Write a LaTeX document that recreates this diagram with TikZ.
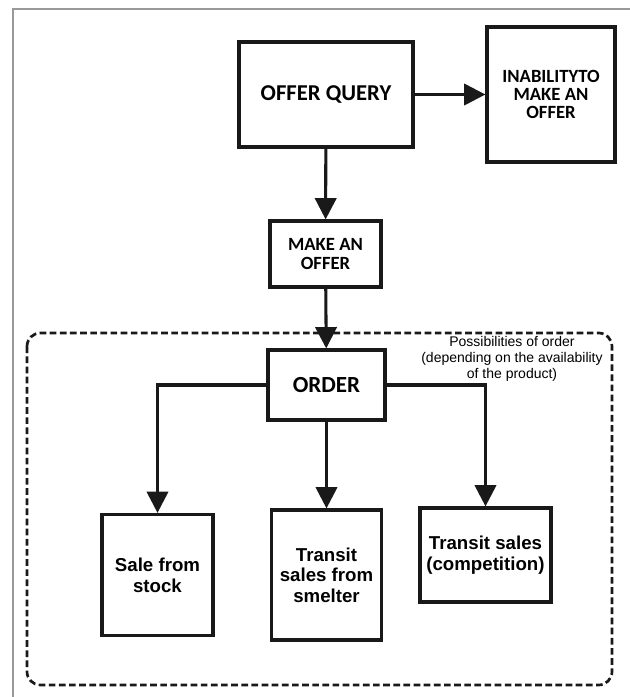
\documentclass[tikz,border=0pt]{standalone}
\usepackage{fontspec}
\newfontfamily\calib{Carlito}
\newfontfamily\arial{Liberation Sans}
\usepackage{tikz}
\usetikzlibrary{arrows.meta,positioning}

\begin{document}
\begin{tikzpicture}[x=0.75pt, y=-0.75pt,
  box/.style={rectangle, draw=black!90, line width=2.4pt, align=center,
              inner sep=2pt},
  topbox/.style={box, font=\calib\bfseries},
  lowbox/.style={box, font=\arial\bfseries\fontsize{14}{15.5}\selectfont},
  edge/.style={line width=2.3pt, black!90,
               -{Triangle[length=16pt, width=16pt]}}
]
  \useasboundingbox (0,0) rectangle (630,697);
  \draw[gray!80, line width=0.8pt] (630,9) -- (13,9) -- (13,697);

  \draw[black!90, line width=2pt, dash pattern=on 5pt off 2.6pt,
        rounded corners=10pt] (27,333) rectangle (612,685);

  \node[topbox, minimum width=130.5pt, minimum height=78.75pt,
        font=\calib\bfseries\fontsize{17}{20}\selectfont] (oq) at (326,94.5) {OFFER QUERY};
  \node[topbox, minimum width=96pt, minimum height=101.25pt,
        font=\calib\bfseries\fontsize{14}{13.5}\selectfont] (inab) at (551,94.5)
        {INABILITYTO\\MAKE AN\\OFFER};
  \node[topbox, minimum width=83.25pt, minimum height=49.5pt,
        font=\calib\bfseries\fontsize{14}{14.2}\selectfont] (mao) at (325.5,254) {MAKE AN\\OFFER};
  \node[topbox, minimum width=87.75pt, minimum height=52.5pt,
        font=\calib\bfseries\fontsize{17.3}{20}\selectfont] (order) at (326.5,385) {ORDER};

  \node[lowbox, minimum width=83.25pt, minimum height=90.75pt] (sale) at (157.5,575)
        {Sale from\\stock};
  \node[lowbox, minimum width=82pt, minimum height=97.5pt] (smelter) at (326.5,575)
        {Transit\\sales from\\smelter};
  \node[lowbox, minimum width=98.25pt, minimum height=70.5pt] (comp) at (485.5,555)
        {Transit sales\\(competition)};

  \node[align=center, font=\arial\fontsize{10.5}{12}\selectfont, inner sep=0pt] (note) at (512,359)
        {Possibilities of order\\(depending on the availability\\of the product)};

  \draw[edge] (oq) -- (inab);
  \draw[edge] (oq) -- (mao);
  \draw[edge] (mao) -- (order);
  \draw[edge] (order.west) -| (sale.north);
  \draw[edge] (order) -- (smelter);
  \draw[edge] (order.east) -| (comp.north);
\end{tikzpicture}
\end{document}
